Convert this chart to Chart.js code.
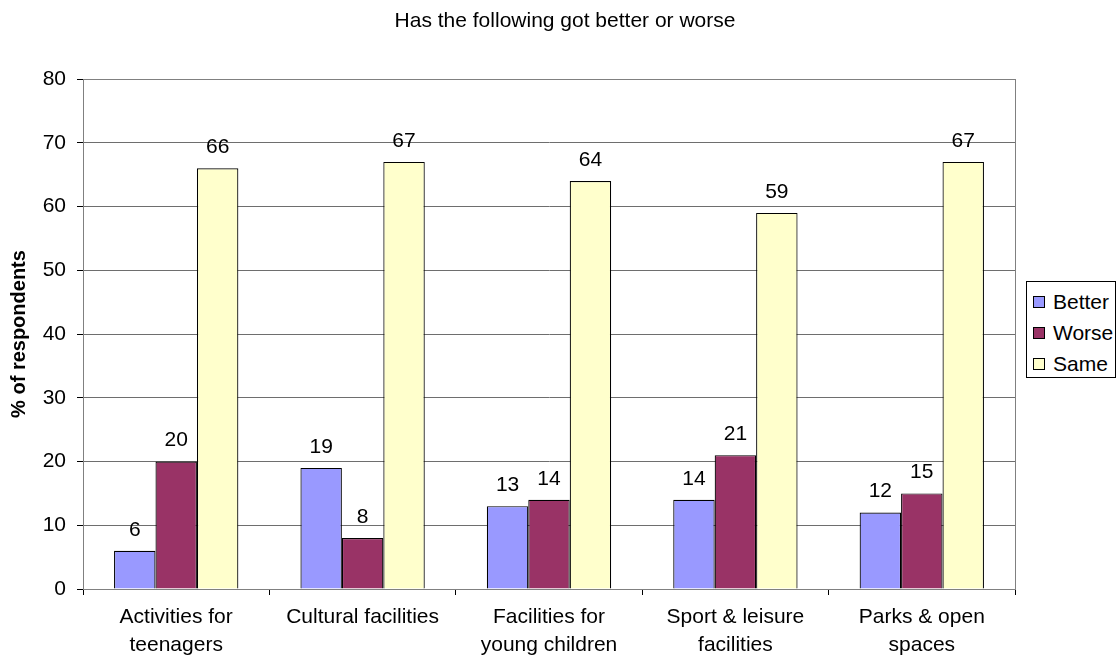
<!DOCTYPE html>
<html>
<head>
<meta charset="utf-8">
<script src="https://cdn.jsdelivr.net/npm/chart.js@4/dist/chart.umd.min.js"></script>
<style>
  body { margin: 0; background: #fff; font-family: Arial, "Liberation Sans", sans-serif; }
  #wrap { position: relative; width: 1119px; height: 659px; }
  #legend { position: absolute; left: 1026px; top: 281px; width: 88px; height: 95px;
            border: 1px solid #000; background: #fff; font-size: 21px; }
  #legend div { position: absolute; left: 6px; height: 22px; line-height: 22px; color: #000; white-space: nowrap; }
  #legend span { display: inline-block; width: 10px; height: 10px; border: 1px solid #000; margin-right: 8px; vertical-align: 1px; }
</style>
</head>
<body>
<div id="wrap">
  <canvas id="surveyChart" width="1119" height="659"></canvas>
  <div id="legend"></div>
</div>
<script>
// Has the following got better or worse
const categories = [
  ['Activities for', 'teenagers'],
  'Cultural facilities',
  ['Facilities for', 'young children'],
  ['Sport & leisure', 'facilities'],
  ['Parks & open', 'spaces']
];
const better = [6, 19, 13, 14, 12];
const worse = [20, 8, 14, 21, 15];
const same = [66, 67, 64, 59, 67];
const seriesNames = ['Better', 'Worse', 'Same'];
const seriesColors = ['#9999ff', '#993366', '#ffffcc'];

const font = 'Arial, "Liberation Sans", sans-serif';

// value labels above each bar
const valueLabels = {
  id: 'valueLabels',
  afterDatasetsDraw(chart) {
    const ctx = chart.ctx;
    ctx.save();
    ctx.font = '21px ' + font;
    ctx.fillStyle = '#000';
    ctx.textAlign = 'center';
    ctx.textBaseline = 'middle';
    chart.data.datasets.forEach((ds, i) => {
      chart.getDatasetMeta(i).data.forEach((bar, j) => {
        ctx.fillText(ds.data[j], bar.x, bar.y - 21);
      });
    });
    ctx.restore();
  }
};

// grey plot border + title
const plotFrame = {
  id: 'plotFrame',
  beforeDatasetsDraw(chart) {
    const a = chart.chartArea, ctx = chart.ctx;
    ctx.save();
    ctx.strokeStyle = '#808080';
    ctx.lineWidth = 1;
    ctx.strokeRect(a.left + 0.5, a.top + 0.5, a.right - a.left, a.bottom - a.top);
    ctx.restore();
  },
  afterDraw(chart) {
    const ctx = chart.ctx;
    ctx.save();
    ctx.font = '21px ' + font;
    ctx.fillStyle = '#000';
    ctx.textAlign = 'center';
    ctx.textBaseline = 'middle';
    ctx.fillText('Has the following got better or worse', 565, 21);
    ctx.restore();
  }
};

const ctx1 = document.getElementById('surveyChart');
new Chart(ctx1, {
  type: 'bar',
  data: {
    labels: categories,
    datasets: [better, worse, same].map((d, i) => ({
      label: seriesNames[i],
      data: d,
      backgroundColor: seriesColors[i],
      borderColor: '#000',
      borderWidth: 1.2,
      categoryPercentage: 0.667,
      barPercentage: 1
    }))
  },
  options: {
    responsive: false,
    animation: false,
    layout: { padding: { top: 79, right: 104, left: 0, bottom: 0 } },
    plugins: { legend: { display: false }, title: { display: false }, tooltip: { enabled: false } },
    scales: {
      x: {
        grid: { drawOnChartArea: false, color: '#000', tickLength: 6, offset: true },
        border: { color: '#000', width: 1 },
        ticks: { color: '#000', font: { family: font, size: 21, lineHeight: 1.3 }, padding: 9, maxRotation: 0 },
        afterFit: s => { s.height = 70; }
      },
      y: {
        min: 0, max: 80,
        ticks: { stepSize: 10, color: '#000', font: { family: font, size: 21 }, padding: 11 },
        grid: { color: '#6e6e6e', tickLength: 6, tickColor: '#000' },
        border: { color: '#000', width: 1 },
        title: { display: true, text: '% of respondents', color: '#000',
                 font: { family: font, size: 20, weight: 'bold' }, padding: { top: 7, bottom: 0 } },
        afterFit: s => { s.width = 83; }
      }
    }
  },
  plugins: [valueLabels, plotFrame]
});

// legend
const legend = document.getElementById('legend');
seriesNames.forEach((n, i) => {
  const row = document.createElement('div');
  row.style.top = (9 + i * 31) + 'px';
  row.innerHTML = '<span style="background:' + seriesColors[i] + '"></span>' + n;
  legend.appendChild(row);
});
</script>
</body>
</html>
